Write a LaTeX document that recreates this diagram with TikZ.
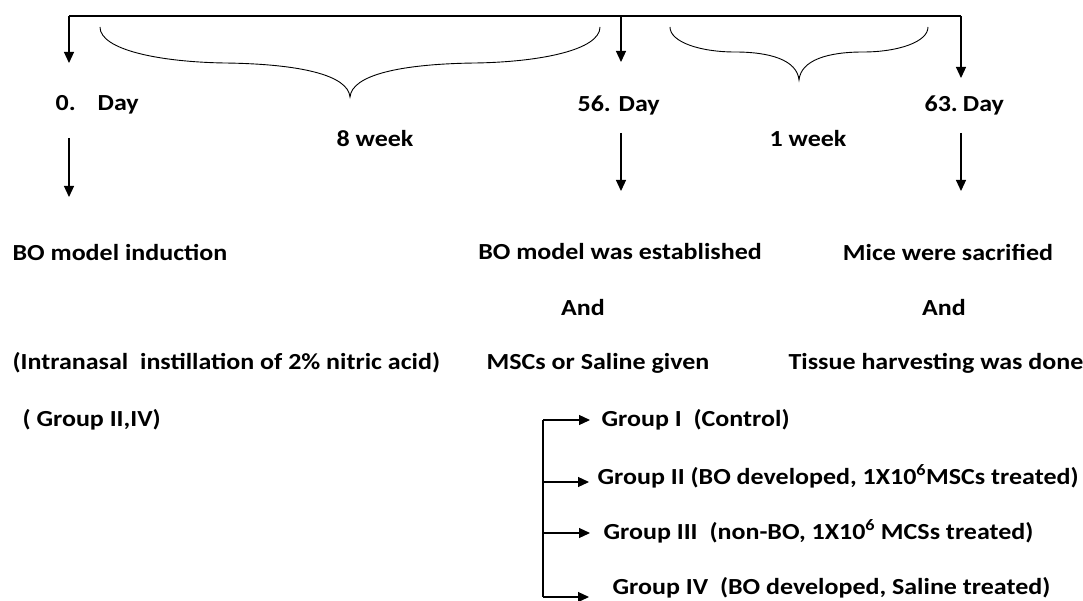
\documentclass[tikz,border=0pt]{standalone}
\usepackage{fontspec}
\setmainfont{Carlito}[FakeStretch=1.13]
\usetikzlibrary{arrows.meta}

\begin{document}
\begin{tikzpicture}[x=1pt,y=-1pt,line width=1.2pt,
	font=\fontsize{23}{28}\selectfont\bfseries,
	lbl/.style={anchor=west,inner sep=0pt},
	tip/.style={-{Triangle[length=11pt,width=10pt]}}]
		\useasboundingbox (0,0) rectangle (1083,601);
		% timeline on top
		\coordinate (top0) at (69,16);
		\coordinate (top56) at (621,16);
		\coordinate (top63) at (961,16);
		\coordinate (a0) at (69,63);
		\coordinate (a56) at (621,62);
		\coordinate (a63) at (961,78);
		\draw (top0) -- (top63);
		\draw[tip] (top0) -- (a0);
		\draw[tip] (top56) -- (a56);
		\draw[tip] (top63) -- (a63);
		% braces
		\draw[line width=0.9pt] (100,27) .. controls (100,50) and (160,62) .. (225,63)
			.. controls (300,64) and (348,75) .. (350,97)
			.. controls (352,75) and (400,64) .. (475,63)
			.. controls (540,62) and (600,50) .. (600,27);
		\draw[line width=0.9pt] (670,27) .. controls (670,42) and (700,52) .. (735,52)
			.. controls (770,52) and (797,60) .. (799,80)
			.. controls (801,60) and (828,52) .. (863,52)
			.. controls (898,52) and (928,42) .. (928,27);
		% days
		\node[lbl] (d0) at (55,105) {0.\hspace{22pt}Day};
		\node[lbl] (d56) at (577,105) {56. Day};
		\node[lbl] (d63) at (924,105) {63.\hspace{5pt}Day};
		\node (w8) at (375,139) {8 week};
		\node (w1) at (808,139) {1 week};
		\coordinate (b0) at (69,138);
		\coordinate (e0) at (69,197);
		\coordinate (b56) at (621,133);
		\coordinate (e56) at (621,191);
		\coordinate (b63) at (961,133);
		\coordinate (e63) at (961,191);
		\draw[tip] (b0) -- (e0);
		\draw[tip] (b56) -- (e56);
		\draw[tip] (b63) -- (e63);
		% events
		\node[lbl] (ind) at (12,252) {BO model induction};
		\node[lbl] (acid) at (12,363) {(Intranasal\hspace{6pt} instillation of 2\% nitric acid)};
		\node[lbl] (grp) at (22,420) {( Group II,IV)};
		\node (est) at (620,252) {BO model was established};
		\node (and1) at (583,308) {And};
		\node (msc) at (598,363) {MSCs or Saline given};
		\node (mice) at (948,252) {Mice were sacrified};
		\node (and2) at (944,308) {And};
		\node (tis) at (936,363) {Tissue harvesting was done};
		% groups
		\node[lbl] (g1) at (601,420) {Group I\hspace{6pt} (Control)};
		\node[lbl] (g2) at (597,476) {Group II (BO developed, 1X10\textsuperscript{6}MSCs treated)};
		\node[lbl] (g3) at (603,531) {Group III\hspace{6pt} (non-BO, 1X10\textsuperscript{6} MCSs treated)};
		\node[lbl] (g4) at (612,588) {Group IV\hspace{6pt} (BO developed, Saline treated)};
		\coordinate (v1) at (543,420);
		\coordinate (v2) at (543,482);
		\coordinate (v3) at (543,533);
		\coordinate (v4) at (543,597);
		\coordinate (h1) at (590,420);
		\coordinate (h2) at (589,482);
		\coordinate (h3) at (590,533);
		\coordinate (h4) at (589,597);
		\draw (v1) -- (v4);
		\draw[tip] (v1) -- (h1);
		\draw[tip] (v2) -- (h2);
		\draw[tip] (v3) -- (h3);
		\draw[tip] (v4) -- (h4);
\end{tikzpicture}
\end{document}
